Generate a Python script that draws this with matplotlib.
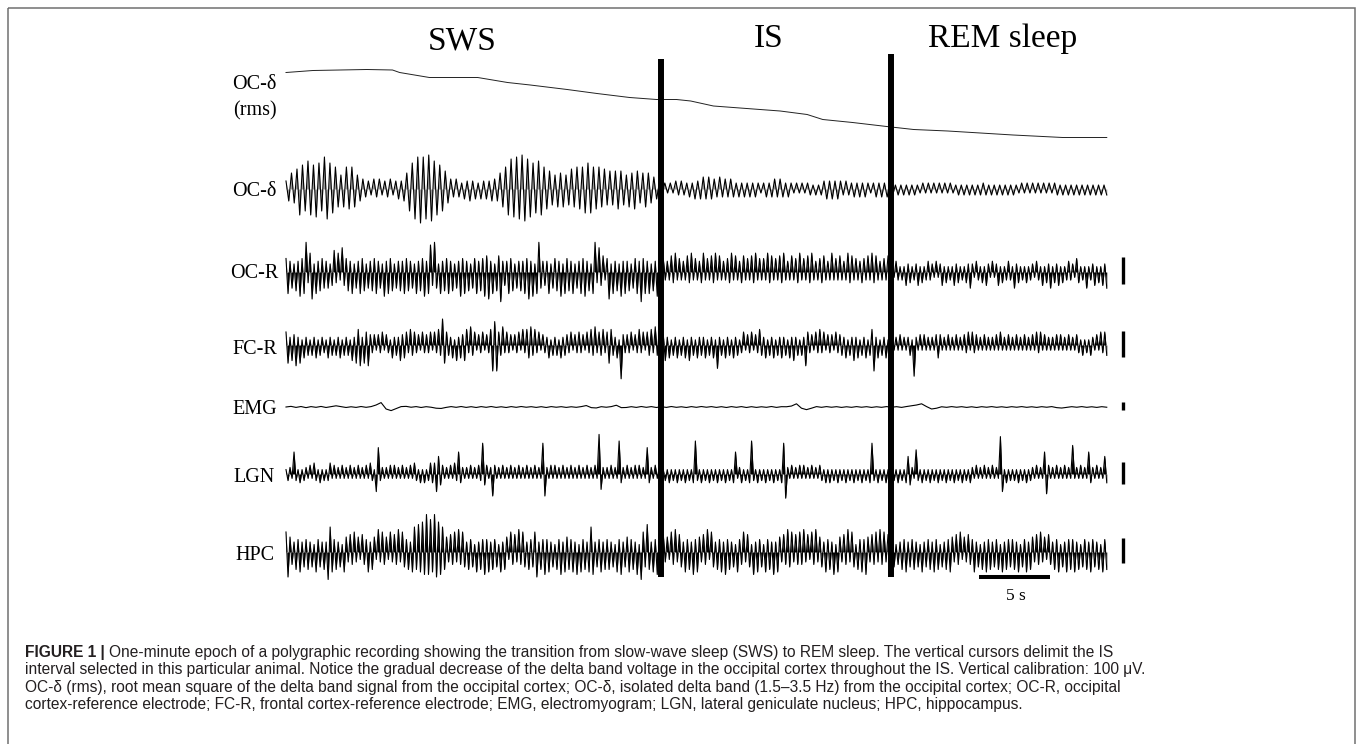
import numpy as np
import matplotlib
matplotlib.use("Agg")
import matplotlib.pyplot as plt
from matplotlib.patches import Rectangle

# ------------------------------------------------------------------ data
STAGES = ["SWS", "IS", "REM sleep"]
LABELS = ["OC-δ", "OC-δ", "OC-R", "FC-R", "EMG", "LGN", "HPC"]
EPOCH_S = 57.8            # length of the displayed traces (s)
CURSOR_T = [26.4, 42.6]   # cursors delimiting the IS interval (s)
SCALE_S = 5               # horizontal calibration (s)
CAL_UV = 100              # vertical calibration (µV)

# OC-delta rms envelope (time s, value in arbitrary µV-like units)
RMS_T = [0, 1.9, 3.8, 5.7, 7.5, 8.0, 10.1, 13.5, 15.6, 17.2, 19.8, 21.9, 24.2,
         26.1, 27.5, 28.5, 30.1, 31.5, 34.8, 36.7, 37.8, 39.9, 42.3, 44.2,
         46.6, 51.2, 54.7, 57.8]
RMS_V = [135, 139, 140, 141, 140, 135, 125, 125, 115, 110, 101, 93, 85,
         81, 81, 78, 68, 65, 58, 51, 41, 35, 27, 21, 18, 10, 5, 5]

# Band traces: each base-36 character is one successive peak / trough
# excursion (alternately up and down), in units of 10 µV.
OC_DELTA = ("4687adcbed" "cedbgfdcb9" "79bab97654" "4354534453" "45468bdfgh"
            "gfhgedcb97" "5454354645" "3545465689" "bdfegfhgfe" "dcedba9879"
            "8978a9babc" "dcbab9a898" "9a98798a97" "898765"
            "3232324343" "3435456565" "5464545434" "3434343234" "3454543432"
            "3232332323" "4545454343" "3434343234" "3434"
            "2323232323" "2232323232" "3232232323" "2323332323" "2323232232"
            "3232323232" "3323232323" "2323232323")

OC_R = ("5846374958" "b47a384756" "4635847395" "5748364857" "3647584639"
        "4857364748" "5746384759" "48a5b63847" "5847364958" "4736584759"
        "6a48376b45" "4857364748" "5a4938b645" "4836574938" "5748364859"
        "4738b49563" "5a38473948" "4736584b58" "4837495"
        "4534364735" "3436473534" "4735364736" "3435473634" "4635364735"
        "3537463536" "4734363547" "3536473435" "4634373536" "3437463534"
        "4536374634" "35364"
        "3243232534" "2335242343" "3242352423" "2534232436" "3243242532"
        "4235242343" "2634232423" "3243252436" "2435242343" "3254232623"
        "35242536")

FC_R = ("5736483725" "3424352433" "2534243524" "3426376837" "5843424352"
        "4325343645" "5364534253" "43525364a7" "5435263546" "6374524352"
        "436a9a5473" "5342435263" "6574635243" "3524342534" "4352435342"
        "5364735463" "5764352d43" "4352436352" "5463746"
        "5463524352" "4352634253" "4352435293" "4253425342" "3524352436"
        "4352435243" "5342536342" "4385342536" "3524342534" "4352436352"
        "435246a352" "43524"
        "3232423234" "2c32424232" "3245423242" "3242324352" "5342324232"
        "3242523242" "3242324232" "4253524232" "3242423242" "3243242324"
        "32425354")

LGN = ("2332a32423" "3242532423" "2352423242" "3242324232" "425328c332"
       "3242423242" "3242532424" "2354588542" "324253a432" "32423243e5"
       "423a423242" "3242324232" "42324232ea" "3242423242" "3242324232"
       "423242i732" "324232f432" "4232424232" "c432423"
       "4232423242" "3242324f32" "4232423242" "3242324a23" "42324f3242"
       "3242324232" "4eb3242324" "2423242324" "3242423242" "3242324232"
       "42324e3242" "32423"
       "2324232485" "32b3242324" "2324232423" "2423242324" "3242324232"
       "4232h82423" "2324232423" "324232a942" "3242324232" "d2324232a4"
       "32423284")

HPC = ("8a65475846" "5746385647" "4ba8574638" "6475846375" "5847639485"
       "6384759486" "5748a7b8c9" "f9d8fac9a7" "6475849586" "4756384759"
       "5847563847" "6385749586" "47568a4759" "5846375948" "6758493857"
       "48a9465847" "5746385946" "6857493b86" "b748596"
       "5746385947" "6485749586" "4759386475" "8495746385" "5847639485"
       "6385749486" "4759684758" "5947385946" "6485749386" "4759486375"
       "8596475849" "58476"
       "4635475846" "5746384657" "4857364758" "6475836475" "5846374857"
       "4657384756" "5748365847" "6475846375" "4758364857" "5847365748"
       "56473857")

# EMG: slow signal, one sample every ~0.35 s, units of 10 µV
EMG = [0, 0.8, -0.5, 0.6, -0.8, 0.5, -0.4, 0.7, -0.6, 0.4,
       1.5, 0.5, -0.6, 0.3, -0.5, 0.6, -0.4, 0.5, 2.5, 5.5,
       -2.5, -4.5, -2, 0.5, 0.8, -0.3, 0.5, -0.6, 0.4, -0.3,
       -1.5, -1.8, -0.5, 0.5, -0.4, 0.6, -0.5, 0.4, -0.6, 0.5,
       -0.4, 0.6, -0.5, 0.3, -0.6, 0.5, -0.4, 0.6, -0.3, 0.4,
       -0.5, 0.4, -0.6, 0.5, -0.3, 0.4, -0.5, 0.3, -0.4, 0.5,
       1.8, -0.8, -1.2, 0.4, -0.3, 0.5, 2.2, -0.8, -0.6, 0.4,
       -0.5, 0.6, -0.4, 0.5, -0.6, 0.4, -0.5, 0.6, -0.4, 0.3,
       -0.6, 0.5, -0.4, 0.6, -0.3, 0.5, -0.5, 0.4, -0.6, 0.5,
       -0.4, 0.5, -0.6, 0.4, -0.5, 0.3, -0.4, 0.6, -0.5, 0.4,
       0.3, 1.2, 4, -1.5, -3.3, -1.5, 0.5, -0.4, 0.5, -0.3,
       0.4, -0.5, 0.3, -0.4, 0.5, -0.3, 0.4, -0.5, 0.3, -0.4,
       0.5, -0.3, 0.4, -0.5, 0.6, 1.5, 2.5, 4, 0.5, -2.5,
       -1.5, 0.3, -0.4, 0.5, -0.3, 0.4, -0.5, 0.3, -0.6, 0.4,
       -0.3, 0.5, -0.4, 0.3, -0.5, 0.4, -0.3, 0.5, -0.4, 0.3,
       -0.5, 0.4, -0.3, 0.5, -0.8, -1.3, -0.5, 0.4, -0.3, 0.5,
       -0.4, 0.3, -0.5, 0.4, -0.3]

CAPTION_BOLD = "FIGURE 1 |"
CAPTION = [
    "One-minute epoch of a polygraphic recording showing the transition from slow-wave sleep (SWS) to REM sleep. The vertical cursors delimit the IS",
    "interval selected in this particular animal. Notice the gradual decrease of the delta band voltage in the occipital cortex throughout the IS. Vertical calibration: 100 μV.",
    "OC-δ (rms), root mean square of the delta band signal from the occipital cortex; OC-δ, isolated delta band (1.5–3.5 Hz) from the occipital cortex; OC-R, occipital",
    "cortex-reference electrode; FC-R, frontal cortex-reference electrode; EMG, electromyogram; LGN, lateral geniculate nucleus; HPC, hippocampus.",
]

# ------------------------------------------------------------------ layout
W, H = 1357, 744
PX_PER_S = 71 / 5
X0 = 286                         # pixel where the traces start
SERIF = ["Liberation Serif", "DejaVu Serif"]
SANS = ["Liberation Sans", "DejaVu Sans"]

RMS_Y, RMS_GAIN = 140, 0.5
CH_Y = [189, 272, 345, 407, 474, 552]
CH_GAIN = [0.20, 0.27, 0.26, 0.08, 0.22, 0.25]
CH_LW = [0.8, 0.8, 0.8, 0.8, 0.8, 0.8]
CH_FILL = ["#9a9a9a", "black", "black", None, "black", "black"]
LABEL_BASE = [89, 196, 278, 354, 414, 481.5, 560.5]


def extrema(s):
    mags = np.array([int(c, 36) for c in s], dtype=float) * 10.0   # -> µV
    sign = np.where(np.arange(len(s)) % 2 == 0, 1.0, -1.0)
    return mags * sign


fig = plt.figure(figsize=(W / 100, H / 100), dpi=100)
lay = fig.add_axes([0, 0, 1, 1])
lay.set_xlim(0, W)
lay.set_ylim(H, 0)
lay.axis("off")

tr = fig.add_axes([0, 0, 1, 1])
tr.set_xlim(-X0 / PX_PER_S, (W - X0) / PX_PER_S)
tr.set_ylim(H, 0)
tr.axis("off")

# outer frame
lay.add_patch(Rectangle((8, 8), 1347, 760, fill=False, edgecolor="#707070", lw=1.1))

# rms trace
tr.plot(RMS_T, RMS_Y - RMS_GAIN * np.array(RMS_V), color="#222222", lw=0.7)

# band traces
series = [extrema(OC_DELTA), extrema(OC_R), extrema(FC_R),
          np.array(EMG) * 10.0, extrema(LGN), extrema(HPC)]
for vals, y0, g, lw, fc in zip(series, CH_Y, CH_GAIN, CH_LW, CH_FILL):
    t = np.linspace(0, EPOCH_S, len(vals))
    y = y0 - g * vals
    if fc is not None:
        tr.fill_between(t, y, y0, color=fc, lw=0)
    tr.plot(t, y, color="black", lw=lw)

# cursors
for tc, top in zip(CURSOR_T, [59, 54]):
    tr.plot([tc, tc], [top, 577], color="black", lw=4.3, solid_capstyle="butt")

# vertical calibration bars (100 µV) for OC-R ... HPC
t_cal = (1122.7 - X0) / PX_PER_S
for y0, g in zip(CH_Y[1:], CH_GAIN[1:]):
    half = CAL_UV * g / 2
    tr.plot([t_cal, t_cal], [y0 - 1.5 - half, y0 - 1.5 + half], color="black",
            lw=2.4, solid_capstyle="butt")

# time scale bar
t_sb = (979 - X0) / PX_PER_S
tr.plot([t_sb, t_sb + SCALE_S], [577, 577], color="black", lw=2.9,
        solid_capstyle="butt")
lay.text(1015.5, 600, f"{SCALE_S} s", family=SERIF, fontsize=12.5,
         ha="center", va="baseline")

# stage titles
for name, xc, yb in zip(STAGES, [462, 768.5, 1002.5], [49, 47, 47]):
    lay.text(xc, yb, name, family=SERIF, fontsize=24, ha="center", va="baseline")

# channel labels
for lab, yb in zip(LABELS, LABEL_BASE):
    lay.text(254.5, yb, lab, family=SERIF, fontsize=14.5, ha="center", va="baseline")
lay.text(254.5, 115, "(rms)", family=SERIF, fontsize=14.5, ha="center", va="baseline")

# caption
cap_col = "#231f20"
cap_fs = 11.2
r = fig.canvas.get_renderer()
tb = lay.text(25, 657, CAPTION_BOLD, family=SANS, fontsize=cap_fs,
              fontweight="bold", ha="left", va="baseline", color=cap_col)
x_after = tb.get_window_extent(renderer=r).x1 + 4
for i, (line, yb) in enumerate(zip(CAPTION, [657, 674.3, 691.6, 709])):
    lay.text(x_after if i == 0 else 25, yb, line, family=SANS, fontsize=cap_fs,
             ha="left", va="baseline", color=cap_col)

fig.savefig("out.png", dpi=100)
